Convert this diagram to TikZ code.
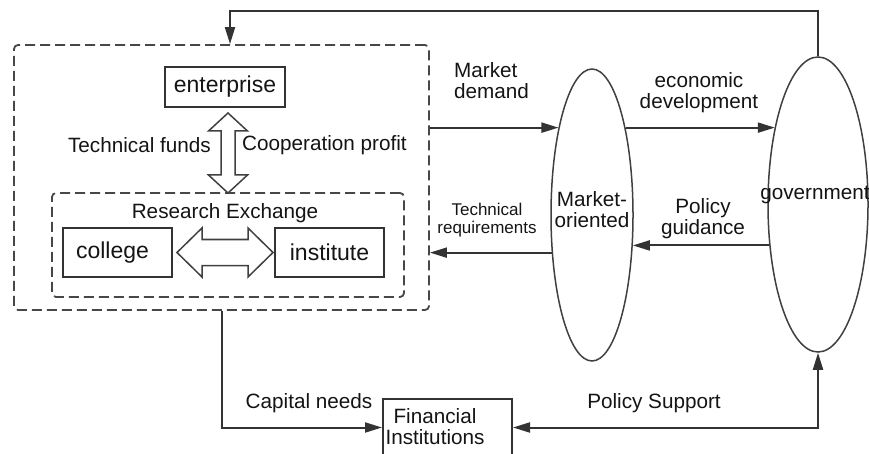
\documentclass[tikz,border=0pt]{standalone}
\usepackage{fontspec}
\setmainfont{Liberation Sans}
\usetikzlibrary{arrows.meta,calc,shapes.geometric}
\begin{document}
\begin{tikzpicture}[x=1pt,y=-1pt,
  >={Triangle[length=17pt,width=10pt]},
  lbl/.style={inner sep=0pt, font=\fontsize{20.7}{21}\selectfont, text=black!92, align=center},
  sbox/.style={draw=black!80, line width=2pt, inner sep=0pt, font=\fontsize{23}{23}\selectfont, text=black!92},
  dbox/.style={draw=black!72, line width=1.8pt, dash pattern=on 10pt off 5pt, rounded corners=4pt, inner sep=0pt},
  conn/.style={draw=black!80, line width=2pt},
  oval/.style={draw=black!75, line width=1.5pt, ellipse, fill=white, inner sep=0pt},
  dbl/.style={draw=black!75, line width=1.5pt, fill=white, line join=miter},
]
\useasboundingbox (0,0) rectangle (869,454);

% boxes
\node[dbox, minimum width=415pt, minimum height=265pt] (outer) at (221.5,177.5) {};
\node[dbox, minimum width=352pt, minimum height=104pt] (inner) at (228,245) {};
\node[sbox, minimum width=120pt, minimum height=40pt] (ent) at (225,87) {enterprise};
\node[sbox, minimum width=109pt, minimum height=49pt] (col) at (117.5,252.5) {\hspace*{-10pt}college};
\node[sbox, minimum width=109pt, minimum height=49pt] (inst) at (329.5,252.5) {institute};
\node[sbox, minimum width=129pt, minimum height=57pt] (fin) at (447.5,427.5) {};

% ellipses
\node[oval, minimum width=82pt, minimum height=292pt] (mkt) at (592,215) {};
\node[oval, minimum width=100pt, minimum height=295pt] (gov) at (818,204.5) {};

% double arrows
\draw[dbl] (228,113) -- (247.5,131) -- (235,131) -- (235,175) -- (247.5,175) -- (228,193)
  -- (208.5,175) -- (221,175) -- (221,131) -- (208.5,131) -- cycle;
\draw[dbl] (177,252.5) -- (202,228) -- (202,239.5) -- (248,239.5) -- (248,228) -- (273,252.5)
  -- (248,277) -- (248,265.5) -- (202,265.5) -- (202,277) -- cycle;

% connectors
\draw[conn,->] (outer.east |- mkt.111) -- (mkt.111);
\draw[conn,->] (mkt.69) -- (mkt.69 -| gov.119);
\draw[conn,->] (gov.220) -- (gov.220 -| mkt.323);
\draw[conn,->] (mkt.223) -- (mkt.223 -| outer.east);
\coordinate (fb) at (230,11);
\draw[conn,->] (gov.north) |- (fb) -- (fb |- outer.north);
\draw[conn,->] (outer.south) |- (fin.west);
\draw[conn,<->] (fin.east) -| (gov.south);

% labels
\node[lbl, anchor=east] (tf) at (211,145) {Technical funds};
\node[lbl, anchor=west] (cp) at (242,145) {Cooperation profit};
\node[lbl] (re) at (225,213) {Research Exchange};
\node[lbl, align=left, anchor=west] (md) at (454,81) {Market\\demand};
\node[lbl] (ed) at (699,93) {economic\\development};
\node[lbl] (pg) at (703,219) {Policy\\guidance};
\node[lbl, font=\fontsize{17}{18}\selectfont] (tr) at (487,220) {Technical\\requirements};
\node[lbl] (mo) at (592,210) {Market-\\oriented};
\node[lbl] (gt) at (815,195) {government};
\node[lbl] (cn) at (309,403) {Capital needs};
\node[lbl] (ps) at (654,403) {Policy Support};
\node[lbl] (ft) at (435,427) {Financial\\Institutions};
\end{tikzpicture}
\end{document}
